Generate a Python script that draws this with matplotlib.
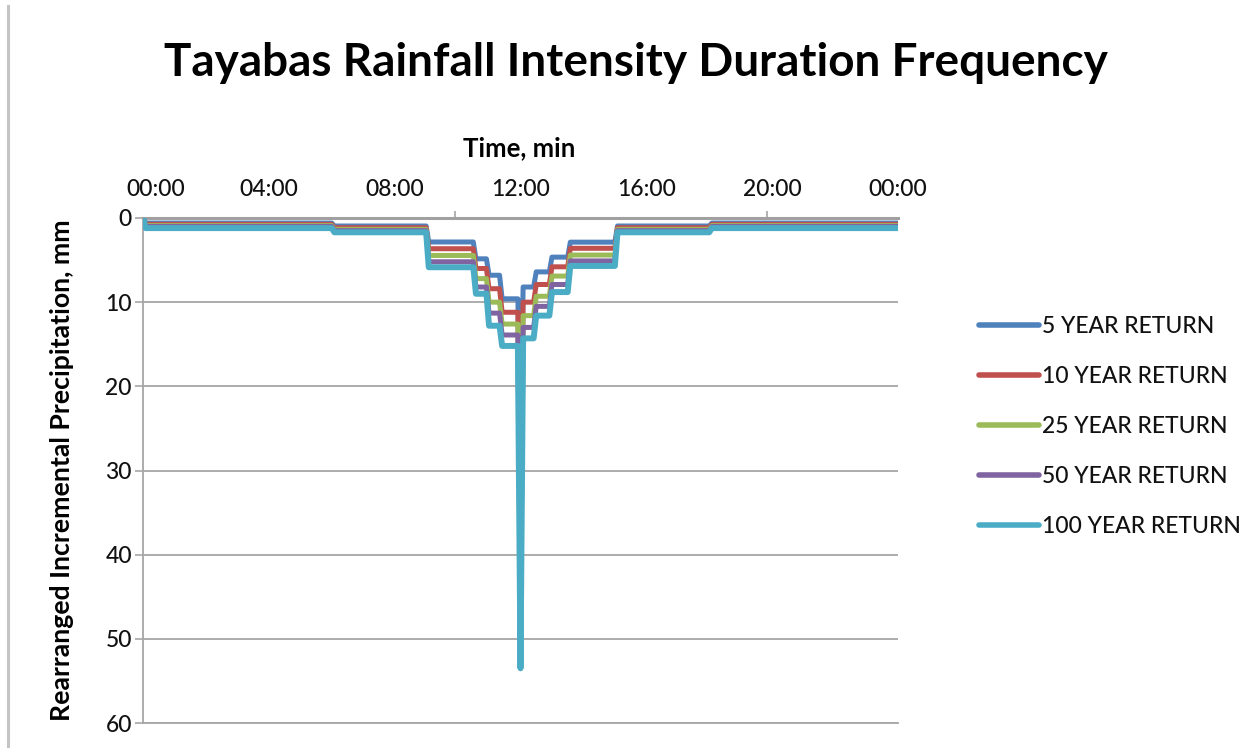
import numpy as np
import matplotlib
matplotlib.use("Agg")
import matplotlib.pyplot as plt
import matplotlib.transforms as mtransforms
from matplotlib.lines import Line2D

plt.rcParams['font.family'] = ['Lato', 'DejaVu Sans']

# ---- data -------------------------------------------------------------
series_names = ["5 YEAR RETURN", "10 YEAR RETURN", "25 YEAR RETURN",
                "50 YEAR RETURN", "100 YEAR RETURN"]
series_colors = ["#4F81BD", "#C0504D", "#9BBB59", "#8064A2", "#4BACC6"]
series_widths = [3.6, 3.6, 3.6, 3.6, 4.3]

# Rearranged storm: each block ends at the given minute (inclusive);
# the depth within a block is the same for every 5-minute step.
step_min = 5
block_end_min = [0, 360, 540, 630, 655, 680, 715, 720, 745, 775, 810, 900, 1080, 1440]

depth_5yr   = [0, 0.60, 0.95, 2.85, 4.85, 6.8, 9.6, 27.0, 8.2, 6.4, 4.65, 2.87, 0.95, 0.60]
depth_10yr  = [0, 0.75, 1.15, 3.65, 6.0, 8.4, 11.2, 34.0, 10.0, 7.9, 5.8, 3.6, 1.15, 0.75]
depth_25yr  = [0, 0.90, 1.35, 4.45, 7.2, 10.0, 12.6, 41.0, 11.6, 9.3, 6.9, 4.4, 1.35, 0.90]
depth_50yr  = [0, 1.00, 1.50, 5.20, 8.2, 11.3, 13.9, 48.0, 13.0, 10.5, 7.9, 5.1, 1.50, 1.00]
depth_100yr = [0, 1.20, 1.70, 5.85, 9.0, 12.8, 15.2, 53.5, 14.3, 11.6, 8.8, 5.7, 1.70, 1.20]
series_depths = [depth_5yr, depth_10yr, depth_25yr, depth_50yr, depth_100yr]

x_tick_hours = [0, 4, 8, 12, 16, 20, 24]
x_tick_labels = ["00:00", "04:00", "08:00", "12:00", "16:00", "20:00", "00:00"]
y_ticks = [0, 10, 20, 30, 40, 50, 60]

# ---- time series at 5-minute resolution -------------------------------
minutes = np.arange(0, block_end_min[-1] + 1, step_min)
block_index = np.searchsorted(block_end_min, minutes, side="left")
hours = minutes / 60.0

# ---- figure -------------------------------------------------------------
W, H = 1259, 748
fig = plt.figure(figsize=(W / 100, H / 100), dpi=100)
fig.patch.set_facecolor("white")

ax_left, ax_right, ax_top, ax_bottom = 143, 898, 218, 723
ax = fig.add_axes([ax_left / W, 1 - ax_bottom / H,
                   (ax_right - ax_left) / W, (ax_bottom - ax_top) / H])

for name, color, lw, depths in zip(series_names, series_colors,
                                   series_widths, series_depths):
    values = np.asarray(depths)[block_index]
    ax.plot(hours, values, color=color, lw=lw, label=name,
            solid_joinstyle="round", solid_capstyle="round", zorder=3)

ax.set_xlim(0, 24)
ax.set_ylim(60, 0)

text_color = "#111111"
tick_size = 16.5
grid_gray = "#a6a6a6"

ax.xaxis.tick_top()
ax.set_xticks(x_tick_hours)
ax.set_xticklabels(x_tick_labels)
ax.set_xticks([9.92, 19.83], minor=True)
ax.tick_params(axis="x", which="major", length=0, pad=12.6, labelsize=tick_size,
               labelcolor=text_color)
ax.tick_params(axis="x", which="minor", length=5, width=1.2, color=grid_gray,
               direction="out", top=True, bottom=False)
# the first time label sits slightly inside the axis start
first = ax.get_xticklabels()[0]
first.set_transform(first.get_transform() +
                    mtransforms.ScaledTranslation(13 / 100, 0, fig.dpi_scale_trans))

ax.set_yticks(y_ticks)
ax.tick_params(axis="y", length=6, width=1.2, color=grid_gray, pad=2,
               labelsize=tick_size, labelcolor=text_color)
for lab in ax.get_xticklabels() + ax.get_yticklabels():
    lab.set_fontweight("medium")

ax.yaxis.grid(True, color=grid_gray, lw=1.3, zorder=0)
ax.set_axisbelow(True)
ax.spines["right"].set_visible(False)
ax.spines["top"].set_color("#a0a0a0")
ax.spines["top"].set_linewidth(2.2)
ax.spines["left"].set_color(grid_gray)
ax.spines["left"].set_linewidth(1.3)
ax.spines["bottom"].set_color(grid_gray)
ax.spines["bottom"].set_linewidth(1.3)

# ---- text ---------------------------------------------------------------
fig.text(636 / W, 1 - 63 / H, "Tayabas Rainfall Intensity Duration Frequency",
         ha="center", va="center", fontsize=33, weight="bold", color="black")
fig.text(519 / W, 1 - 148 / H, "Time, min", ha="center", va="center",
         fontsize=18.5, weight="bold", color="black")
fig.text(62 / W, 1 - 470 / H, "Rearranged Incremental Precipitation, mm",
         ha="center", va="center", rotation=90, fontsize=19.2, weight="bold",
         color="black")

# ---- legend -------------------------------------------------------------
handles, labels = ax.get_legend_handles_labels()
leg = fig.legend(handles, labels, loc="upper left",
                 bbox_to_anchor=(958 / W, 1 - 295 / H), frameon=False,
                 prop={"size": 16.5, "weight": "medium"},
                 handlelength=2.65, handletextpad=0.1, labelspacing=1.27)
for t in leg.get_texts():
    t.set_color(text_color)
for line in leg.get_lines():
    line.set_linewidth(4.0)

# thin page border on the left
fig.add_artist(Line2D([8 / W, 8 / W], [0, 1 - 6 / H], color="#c4c4c4", lw=2.2))

fig.savefig("out.png", dpi=100)
